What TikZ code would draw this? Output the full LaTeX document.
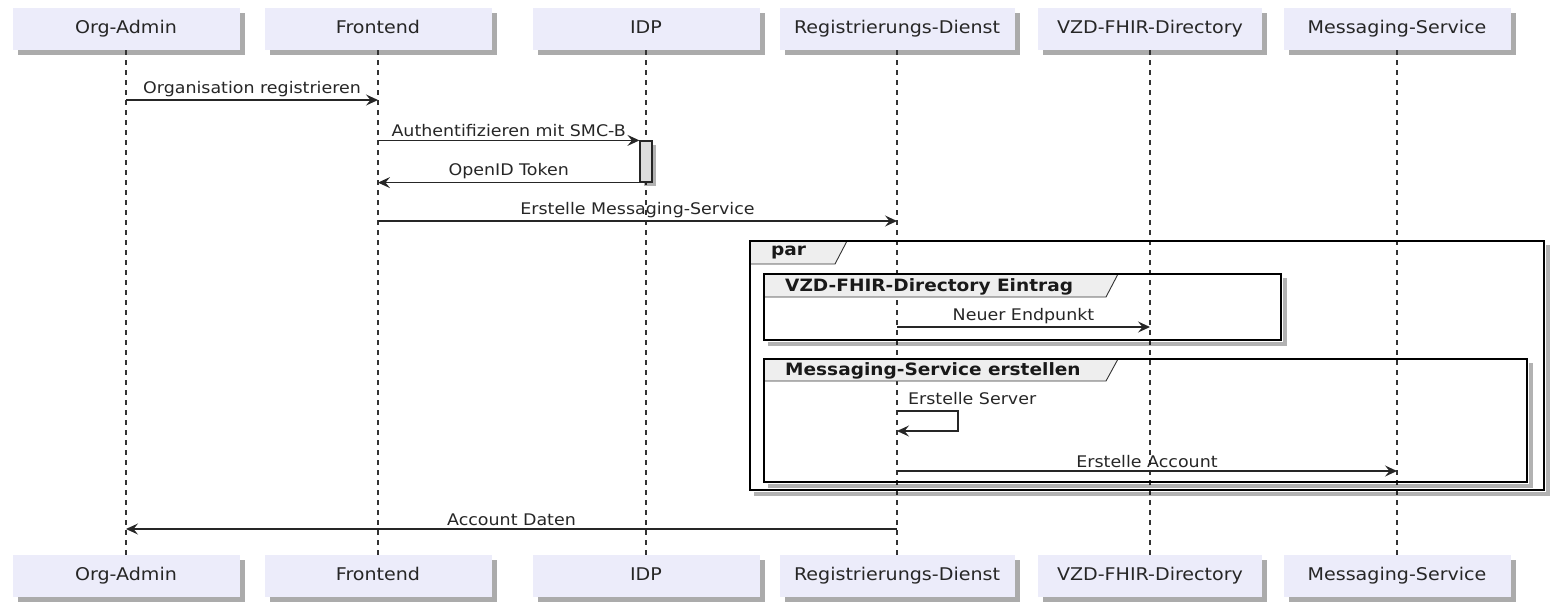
\documentclass[tikz,border=0pt]{standalone}
\usepackage{fontspec}
\setmainfont{DejaVu Sans}[FakeStretch=1.09]
\usetikzlibrary{arrows.meta,shadows}
\definecolor{partfill}{RGB}{236,236,250}
\definecolor{tabfill}{RGB}{238,238,238}
\definecolor{actfill}{RGB}{221,221,221}
\begin{document}
\begin{tikzpicture}[x=1pt,y=-1pt,
  part/.style={fill=partfill, minimum height=42pt, minimum width=227pt, inner sep=0pt,
    text height=13pt, text depth=4pt,
    font=\fontsize{17.5}{20}\selectfont, text=black!85,
    drop shadow={shadow xshift=5pt, shadow yshift=-5pt, fill=black, opacity=0.33}},
  life/.style={draw=black!80, line width=1.1pt, dash pattern=on 5pt off 5pt},
  msg/.style={draw=black!85, line width=1.2pt, -{Stealth[length=12pt,width=11pt,inset=4.5pt]}},
  lbl/.style={font=\fontsize{16}{19}\selectfont, text=black!85, inner sep=3pt},
  frame/.style={draw=black, line width=2.4pt},
  fshadow/.style={draw=black, line width=3.5pt, opacity=0.3},
  tab/.style={fill=tabfill},
  tabline/.style={draw=black!80, line width=0.9pt},
  grp/.style={font=\bfseries\fontsize{17}{19}\selectfont, anchor=west, inner sep=0pt, text=black!90},
  act/.style={fill=actfill, draw=black!85, line width=1.2pt, minimum width=12pt, minimum height=41pt, inner sep=0pt,
    drop shadow={shadow xshift=4pt, shadow yshift=-4pt, fill=black, opacity=0.3}}
]
\useasboundingbox (0,0) rectangle (1564,614);

% participants (top)
\node[part] (oa)  at (126,29)  {Org-Admin};
\node[part] (fe)  at (378,29)  {Frontend};
\node[part] (idp) at (646,29)  {IDP};
\node[part, minimum width=235pt] (rd)  at (897,29)  {Registrierungs-Dienst};
\node[part, minimum width=224pt] (vzd) at (1150,29) {VZD-FHIR-Directory};
\node[part] (ms)  at (1397,29) {Messaging-Service};

% participants (bottom)
\node[part] (oab)  at (126,576)  {Org-Admin};
\node[part] (feb)  at (378,576)  {Frontend};
\node[part] (idpb) at (646,576)  {IDP};
\node[part, minimum width=235pt] (rdb)  at (897,576)  {Registrierungs-Dienst};
\node[part, minimum width=224pt] (vzdb) at (1150,576) {VZD-FHIR-Directory};
\node[part] (msb)  at (1397,576) {Messaging-Service};

% lifelines
\draw[life] (oa.south) -- (oab.north);
\draw[life] (fe.south) -- (feb.north);
\draw[life] (idp.south) -- (idpb.north);
\draw[life] (rd.south) -- (rdb.north);
\draw[life] (vzd.south) -- (vzdb.north);
\draw[life] (ms.south) -- (msb.north);

% activation on IDP
\node[act] (bar) at (646,161.5) {};

% messages
\draw[msg] (oa |- 0,100) -- (fe |- 0,100) node[lbl, midway, above] (l1) {Organisation registrieren};
\draw[msg] (fe |- bar.north) -- (bar.north west) node[lbl, midway, above] (l2) {Authentifizieren mit SMC-B};
\draw[msg] (bar.south west) -- (fe |- bar.south) node[lbl, midway, above] (l3) {OpenID Token};
\draw[msg] (fe |- 0,221) -- (rd |- 0,221) node[lbl, midway, above] (l4) {Erstelle Messaging-Service};

% par frame
\draw[fshadow] (754,494) -- (1548,494) -- (1548,245);
\fill[tab] (750,241) -- (847,241) -- (835,264) -- (750,264) -- cycle;
\draw[tabline] (847,241) -- (835,264) -- (750,264);
\draw[frame] (750,241) rectangle (1544,490);
\node[grp] (gpar) at (771,253) {par};

% group 1
\draw[fshadow] (768,344) -- (1285,344) -- (1285,278);
\fill[tab] (764,274) -- (1118,274) -- (1106,297) -- (764,297) -- cycle;
\draw[tabline] (1118,274) -- (1106,297) -- (764,297);
\draw[frame] (764,274) rectangle (1281,340);
\node[grp] (g1) at (785,287) {VZD-FHIR-Directory Eintrag};
\draw[msg] (rd |- 0,327) -- (vzd |- 0,327) node[lbl, midway, above] (l5) {Neuer Endpunkt};

% group 2
\draw[fshadow] (768,486) -- (1531,486) -- (1531,363);
\fill[tab] (764,359) -- (1118,359) -- (1106,381) -- (764,381) -- cycle;
\draw[tabline] (1118,359) -- (1106,381) -- (764,381);
\draw[frame] (764,359) rectangle (1527,482);
\node[grp] (g2) at (785,371) {Messaging-Service erstellen};
\node[lbl, anchor=west] (l6) at (905,399) {Erstelle Server};
\draw[msg] (rd |- 0,411) -- (958,411) -- (958,431) -- (rd |- 0,431);
\draw[msg] (rd |- 0,471) -- (ms |- 0,471) node[lbl, midway, above] (l7) {Erstelle Account};

% return
\draw[msg] (rd |- 0,529) -- (oa |- 0,529) node[lbl, midway, above] (l8) {Account Daten};
\end{tikzpicture}
\end{document}
